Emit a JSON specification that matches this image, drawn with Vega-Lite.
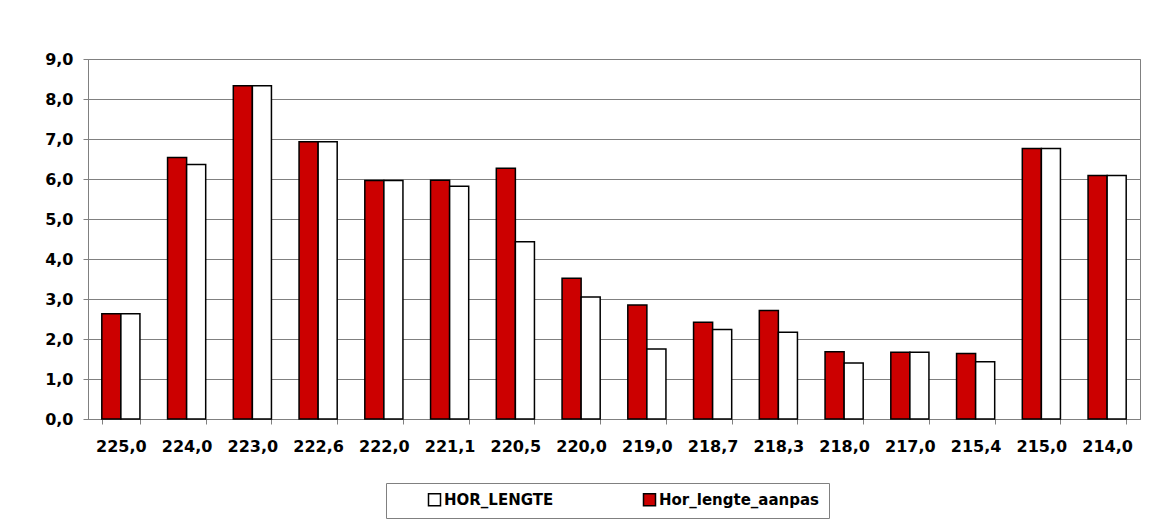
{
  "$schema": "https://vega.github.io/schema/vega-lite/v6.json",
  "width": 1052,
  "height": 360,
  "autosize": {"type": "none"},
  "padding": {"left": 88, "top": 59, "right": 29, "bottom": 110},
  "background": "white",
  "config": {
    "locale": {"number": {"decimal": ",", "thousands": ".", "grouping": [3], "currency": ["€", ""]}},
    "view": {"stroke": "#808080", "strokeWidth": 1},
    "font": "DejaVu Sans"
  },
  "data": {
    "values": [
      {"station": "225,0", "series": "Hor_lengte_aanpas", "value": 2.63},
      {"station": "225,0", "series": "HOR_LENGTE", "value": 2.63},
      {"station": "224,0", "series": "Hor_lengte_aanpas", "value": 6.54},
      {"station": "224,0", "series": "HOR_LENGTE", "value": 6.36},
      {"station": "223,0", "series": "Hor_lengte_aanpas", "value": 8.33},
      {"station": "223,0", "series": "HOR_LENGTE", "value": 8.33},
      {"station": "222,6", "series": "Hor_lengte_aanpas", "value": 6.93},
      {"station": "222,6", "series": "HOR_LENGTE", "value": 6.93},
      {"station": "222,0", "series": "Hor_lengte_aanpas", "value": 5.96},
      {"station": "222,0", "series": "HOR_LENGTE", "value": 5.96},
      {"station": "221,1", "series": "Hor_lengte_aanpas", "value": 5.97},
      {"station": "221,1", "series": "HOR_LENGTE", "value": 5.82},
      {"station": "220,5", "series": "Hor_lengte_aanpas", "value": 6.27},
      {"station": "220,5", "series": "HOR_LENGTE", "value": 4.43},
      {"station": "220,0", "series": "Hor_lengte_aanpas", "value": 3.52},
      {"station": "220,0", "series": "HOR_LENGTE", "value": 3.05},
      {"station": "219,0", "series": "Hor_lengte_aanpas", "value": 2.85},
      {"station": "219,0", "series": "HOR_LENGTE", "value": 1.75},
      {"station": "218,7", "series": "Hor_lengte_aanpas", "value": 2.42},
      {"station": "218,7", "series": "HOR_LENGTE", "value": 2.24},
      {"station": "218,3", "series": "Hor_lengte_aanpas", "value": 2.71},
      {"station": "218,3", "series": "HOR_LENGTE", "value": 2.17},
      {"station": "218,0", "series": "Hor_lengte_aanpas", "value": 1.68},
      {"station": "218,0", "series": "HOR_LENGTE", "value": 1.40},
      {"station": "217,0", "series": "Hor_lengte_aanpas", "value": 1.67},
      {"station": "217,0", "series": "HOR_LENGTE", "value": 1.67},
      {"station": "215,4", "series": "Hor_lengte_aanpas", "value": 1.64},
      {"station": "215,4", "series": "HOR_LENGTE", "value": 1.43},
      {"station": "215,0", "series": "Hor_lengte_aanpas", "value": 6.76},
      {"station": "215,0", "series": "HOR_LENGTE", "value": 6.76},
      {"station": "214,0", "series": "Hor_lengte_aanpas", "value": 6.09},
      {"station": "214,0", "series": "HOR_LENGTE", "value": 6.09}
    ]
  },
  "mark": {"type": "bar", "stroke": "black", "strokeWidth": 1.5},
  "encoding": {
    "x": {
      "field": "station",
      "type": "nominal",
      "sort": null,
      "scale": {"paddingInner": 0.42, "paddingOuter": 0.21},
      "axis": {
        "title": null,
        "labelAngle": 0,
        "labelFont": "DejaVu Sans",
        "labelFontSize": 16,
        "labelFontWeight": "bold",
        "labelColor": "black",
        "labelPadding": 14,
        "tickBand": "extent",
        "tickSize": 5,
        "tickColor": "#808080",
        "domainColor": "#808080",
        "grid": false
      }
    },
    "xOffset": {"field": "series", "type": "nominal", "sort": ["Hor_lengte_aanpas", "HOR_LENGTE"], "scale": {"paddingInner": 0, "paddingOuter": 0}},
    "y": {
      "field": "value",
      "type": "quantitative",
      "scale": {"domain": [0, 9]},
      "axis": {
        "title": null,
        "values": [0, 1, 2, 3, 4, 5, 6, 7, 8, 9],
        "format": ".1f",
        "labelFont": "DejaVu Sans",
        "labelFontSize": 16,
        "labelFontWeight": "bold",
        "labelColor": "black",
        "labelPadding": 10,
        "tickSize": 5,
        "tickColor": "#808080",
        "domainColor": "#808080",
        "grid": true,
        "gridColor": "#808080",
        "gridOpacity": 1
      }
    },
    "color": {
      "field": "series",
      "type": "nominal",
      "scale": {"domain": ["HOR_LENGTE", "Hor_lengte_aanpas"], "range": ["#ffffff", "#cc0000"]},
      "legend": {
        "title": null,
        "orient": "none",
        "legendX": 298,
        "legendY": 424,
        "direction": "horizontal",
        "symbolType": "square",
        "symbolSize": 144,
        "symbolStrokeColor": "black",
        "symbolStrokeWidth": 1.5,
        "labelFont": "DejaVu Sans",
        "labelFontSize": 15,
        "labelFontWeight": "bold",
        "labelColor": "black",
        "labelOffset": 2,
        "labelLimit": 400,
        "strokeColor": "#808080",
        "fillColor": "white",
        "padding": 9,
        "columnPadding": 56,
        "symbolOffset": 32
      }
    }
  }
}
